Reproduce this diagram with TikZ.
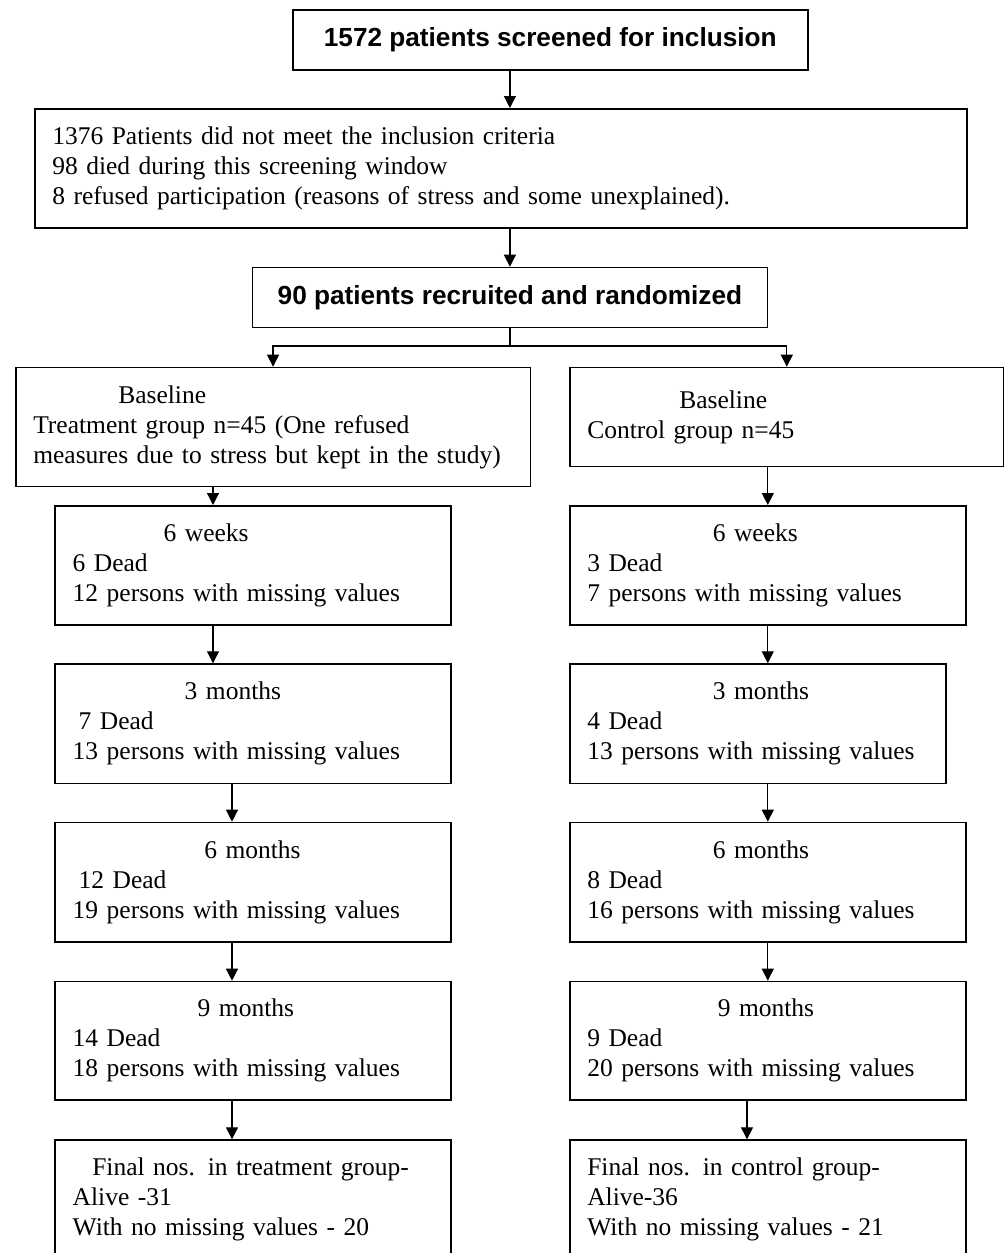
\documentclass[tikz,border=0pt]{standalone}
\usepackage{fontspec}
\setmainfont{Liberation Serif}
\newfontfamily\headfont{Liberation Sans}
\usetikzlibrary{arrows.meta}
\tikzset{>={Triangle[length=6pt,width=6pt]}}
\tikzset{
  box/.style 2 args={draw, line width=0.8pt, anchor=north west, inner xsep=8.75pt, inner ysep=0pt,
    align=left, text width=#1, minimum height=#2, font=\fontsize{12.75}{15}\selectfont},
  head/.style={draw, line width=0.8pt, anchor=north west, minimum width=257.5pt, minimum height=30pt,
    font=\headfont\bfseries\fontsize{13.1}{15}\selectfont},
  link/.style={line width=0.6pt}
}

\begin{document}
\begin{tikzpicture}[x=0.5pt, y=-0.5pt]
\useasboundingbox (0,0) rectangle (1004,1253);
\clip (0,0) rectangle (1004,1253);

% screening and randomization
\node[head] (screen) at (292,9) {1572 patients screened for inclusion};
\node[box={448.5pt}{59.5pt}] (excl) at (34,108) {1376 Patients did not meet the inclusion criteria\\98 died during this screening window\\8 refused participation (reasons of stress and some unexplained).};
\node[head] (rand) at (251.6,266.7) {90 patients recruited and randomized};

% treatment group
\node[box={239.75pt}{59.5pt}] (tbase) at (15,366.7) {\hspace*{42.5pt}Baseline\\Treatment group n=45 (One refused\\measures due to stress but kept in the study)};
\node[box={180.3pt}{59.5pt}] (t6w) at (54.4,505) {\hspace*{45.5pt}6 weeks\\6 Dead\\12 persons with missing values};
\node[box={180.3pt}{59.7pt}] (t3m) at (54.4,663.3) {\hspace*{56pt}3 months\\\hspace*{3pt}7 Dead\\13 persons with missing values};
\node[box={180.3pt}{59.7pt}] (t6m) at (54.4,821.7) {\hspace*{65.8pt}6 months\\\hspace*{3pt}12 Dead\\19 persons with missing values};
\node[box={180.3pt}{59.3pt}] (t9m) at (54.4,980.7) {\hspace*{62.5pt}9 months\\14 Dead\\18 persons with missing values};
\node[box={180.3pt}{59.3pt}] (tfin) at (54.4,1139.3) {\hspace*{9.8pt}Final nos. in treatment group-\\Alive -31\\With no missing values - 20};

% control group
\node[box={199.5pt}{49.5pt}] (cbase) at (569,366.7) {\hspace*{46pt}Baseline\\Control group n=45};
\node[box={180.5pt}{59.5pt}] (c6w) at (569,505) {\hspace*{62.75pt}6 weeks\\3 Dead\\7 persons with missing values};
\node[box={170.5pt}{59.7pt}] (c3m) at (569,663.3) {\hspace*{62.75pt}3 months\\4 Dead\\13 persons with missing values};
\node[box={180.5pt}{59.7pt}] (c6m) at (569,821.7) {\hspace*{62.75pt}6 months\\8 Dead\\16 persons with missing values};
\node[box={180.5pt}{59.3pt}] (c9m) at (569,980.7) {\hspace*{65.25pt}9 months\\9 Dead\\20 persons with missing values};
\node[box={180.5pt}{59.3pt}] (cfin) at (569,1139.3) {Final nos. in control group-\\Alive-36\\With no missing values - 21};

% connectors
\draw[link, ->] (screen.south -| rand) -- (excl.north -| rand);
\draw[link, ->] (excl.south -| rand) -- (rand.north);
\coordinate (split) at (rand.south |- 0,346);
\draw[link] (rand.south) -- (split);
\draw[link, ->] (split) -| (tbase.north);
\draw[link, ->] (split) -| (cbase.north);

\draw[link, ->] (tbase.south -| 213,0) -- (t6w.north -| 213,0);
\draw[link, ->] (t6w.south -| 213,0) -- (t3m.north -| 213,0);
\foreach \a/\b in {t3m/t6m, t6m/t9m, t9m/tfin}
  \draw[link, ->] (\a.south -| 232,0) -- (\b.north -| 232,0);

\draw[link, ->] (cbase.south -| c6w) -- (c6w.north);
\draw[link, ->] (c6w.south) -- (c3m.north -| c6w);
\draw[link, ->] (c3m.south -| c6m) -- (c6m.north);
\draw[link, ->] (c6m.south) -- (c9m.north);
\draw[link, ->] (c9m.south -| 747,0) -- (cfin.north -| 747,0);
\end{tikzpicture}
\end{document}
